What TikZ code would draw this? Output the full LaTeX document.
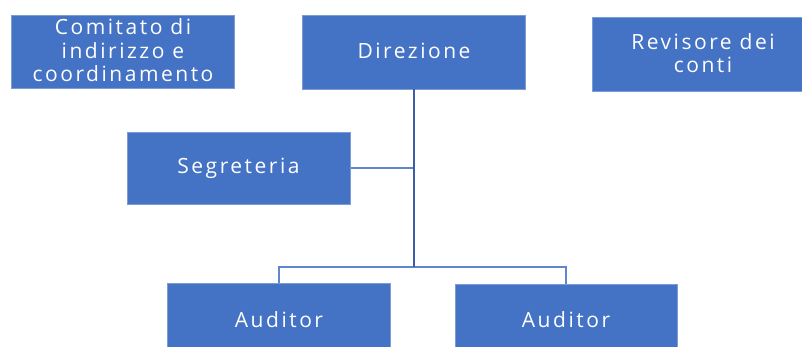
\documentclass[tikz,border=0pt]{standalone}
\usepackage{fontspec}
\setmainfont{Open Sans}[LetterSpace=12]
\definecolor{boxblue}{HTML}{4472C4}
\definecolor{lineblue}{HTML}{3A5FA8}
\begin{document}
\begin{tikzpicture}[x=1pt,y=-1pt,
  orgbox/.style={fill=boxblue,draw=boxblue!70!white,line width=0.5pt},
  orgtext/.style={text=white,align=center,inner sep=0pt,font=\fontsize{21}{23.5}\selectfont},
  trunk/.style={draw=lineblue,line width=2.5pt},
  branch/.style={draw=boxblue!85,line width=1.5pt}]
\useasboundingbox (0,0) rectangle (802,347);
\path[orgbox] (11,15) rectangle (234,88);
\node[orgtext,anchor=base] (com) at (123,82) {Comitato di\\indirizzo e\\coordinamento};
\path[orgbox] (302,15) rectangle (525,89);
\node[orgtext,anchor=base] (dir) at (414,59) {Direzione};
\path[orgbox] (592,17) rectangle (814,91);
\node[orgtext,anchor=base] (rev) at (703,73) {Revisore dei\\conti};
\path[orgbox] (127,132) rectangle (350,204);
\node[orgtext,anchor=base] (seg) at (238.5,174) {Segreteria};
\path[orgbox] (167,283) rectangle (390,352);
\node[orgtext,anchor=base] (aud1) at (279,327) {Auditor};
\path[orgbox] (455,284) rectangle (677,352);
\node[orgtext,anchor=base] (aud2) at (566,327) {Auditor};
\coordinate (dirb) at (414,89);
\coordinate (junc) at (414,267);
\coordinate (segj) at (414,168);
\coordinate (segr) at (351,168);
\coordinate (l1) at (279,267);
\coordinate (l2) at (566,267);
\coordinate (a1t) at (279,283);
\coordinate (a2t) at (566,284);
\draw[branch] (segr) -- (segj);
\draw[branch] (a1t) -- (l1) -- (l2) -- (a2t);
\draw[trunk] (dirb) -- (junc);
\end{tikzpicture}
\end{document}
